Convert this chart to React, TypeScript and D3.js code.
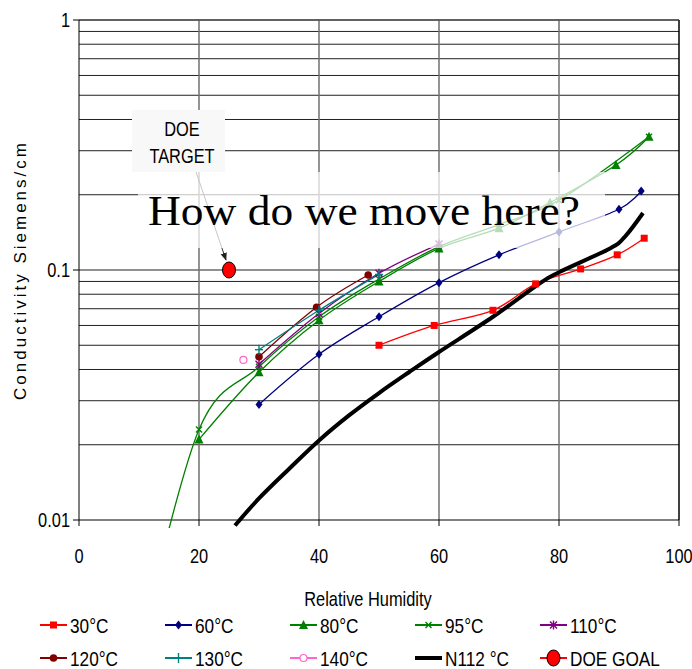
import React from "react";
import * as d3 from "d3";

type Pt = [number, number];

const xTicks = [0, 20, 40, 60, 80, 100];
const yTicks = [1, 0.1, 0.01];
const yTickLabels = ["1", "0.1", "0.01"];

const s30: Pt[] = [[50, 0.05], [59.2, 0.06], [69, 0.069], [76.1, 0.088], [83.6, 0.101], [89.7, 0.115], [94.2, 0.134]];
const s60: Pt[] = [[30, 0.029], [40, 0.046], [50, 0.065], [60, 0.089], [70, 0.115], [80, 0.142], [90, 0.175], [93.7, 0.207]];
const s80: Pt[] = [[20, 0.021], [30, 0.039], [40, 0.063], [50, 0.09], [60, 0.122], [70, 0.147], [78.5, 0.186], [89.5, 0.263], [95, 0.341]];
const s95: Pt[] = [[10, 0.003], [20, 0.023], [30, 0.041], [40, 0.065], [50, 0.092], [60, 0.124], [70, 0.152], [80, 0.19], [95, 0.341]];
const s110: Pt[] = [[30, 0.042], [40, 0.067], [50, 0.097], [60, 0.127]];
const s120: Pt[] = [[30, 0.045], [39.6, 0.071], [48.2, 0.0955]];
const s130: Pt[] = [[30, 0.048], [40, 0.069], [50, 0.096]];
const s140: Pt[] = [[27.4, 0.0437]];
const sN112: Pt[] = [[26, 0.0095], [30, 0.0122], [35, 0.016], [40, 0.0208], [45, 0.0262], [50, 0.0322], [55, 0.039], [60, 0.047], [69, 0.065], [76.8, 0.0885], [80, 0.098], [88.5, 0.122], [91, 0.136], [94, 0.169]];
const doeGoal: Pt[] = [[25, 0.1]];

const seriesNames = ["30°C", "60°C", "80°C", "95°C", "110°C", "120°C", "130°C", "140°C", "N112 °C", "DOE GOAL"];

type Series = { name: string; data: Pt[]; color: string; marker: string; width: number };
const series: Series[] = [
  { name: seriesNames[0], data: s30, color: "#ff0000", marker: "square", width: 1.3 },
  { name: seriesNames[1], data: s60, color: "#000080", marker: "diamond", width: 1.3 },
  { name: seriesNames[2], data: s80, color: "#008000", marker: "triangle", width: 1.3 },
  { name: seriesNames[3], data: s95, color: "#008000", marker: "x", width: 1.3 },
  { name: seriesNames[4], data: s110, color: "#800080", marker: "star", width: 1.3 },
  { name: seriesNames[5], data: s120, color: "#800000", marker: "circle", width: 1.3 },
  { name: seriesNames[6], data: s130, color: "#008080", marker: "plus", width: 1.3 },
  { name: seriesNames[7], data: s140, color: "#ff66cc", marker: "ocircle", width: 1.3 },
  { name: seriesNames[8], data: sN112, color: "#000000", marker: "none", width: 4 },
];

const W = 692, H = 669;
const L = 79, R = 679, T = 20, B = 520;

const x = d3.scaleLinear().domain([0, 100]).range([L, R]);
const y = d3.scaleLog().domain([0.01, 1]).range([B, T]);

const minorY: number[] = [];
[0.01, 0.1].forEach((d) => { for (let k = 2; k <= 10; k++) minorY.push(d * k); });

const line = d3.line<Pt>().x((d) => x(d[0])).y((d) => y(d[1])).curve(d3.curveCardinal.tension(0));

function Marker({ type, cx, cy, color }: { type: string; cx: number; cy: number; color: string }) {
  switch (type) {
    case "square":
      return <rect x={cx - 3.5} y={cy - 3.5} width={7} height={7} fill={color} />;
    case "diamond":
      return <polygon points={`${cx},${cy - 4.5} ${cx + 3.5},${cy} ${cx},${cy + 4.5} ${cx - 3.5},${cy}`} fill={color} />;
    case "triangle":
      return <polygon points={`${cx},${cy - 5} ${cx + 4.5},${cy + 4} ${cx - 4.5},${cy + 4}`} fill={color} />;
    case "x":
      return <g stroke={color} strokeWidth={1.4}><line x1={cx - 3} y1={cy - 3} x2={cx + 3} y2={cy + 3} /><line x1={cx - 3} y1={cy + 3} x2={cx + 3} y2={cy - 3} /></g>;
    case "star":
      return <g stroke={color} strokeWidth={1.4}><line x1={cx - 3.5} y1={cy - 3.5} x2={cx + 3.5} y2={cy + 3.5} /><line x1={cx - 3.5} y1={cy + 3.5} x2={cx + 3.5} y2={cy - 3.5} /><line x1={cx} y1={cy - 4.5} x2={cx} y2={cy + 4.5} /></g>;
    case "circle":
      return <circle cx={cx} cy={cy} r={3.8} fill={color} />;
    case "plus":
      return <g stroke={color} strokeWidth={1.4}><line x1={cx - 4} y1={cy} x2={cx + 4} y2={cy} /><line x1={cx} y1={cy - 5} x2={cx} y2={cy + 5} /></g>;
    case "ocircle":
      return <circle cx={cx} cy={cy} r={3.5} fill="white" stroke={color} strokeWidth={1.2} />;
    case "goal":
      return <ellipse cx={cx} cy={cy} rx={6.5} ry={8} fill="#ff0000" stroke="#000" strokeWidth={1} />;
    default:
      return null;
  }
}

function NText({ x: tx, y: ty, anchor = "start", size = 20, children, sx = 0.82 }: any) {
  return (
    <text transform={`translate(${tx},${ty}) scale(${sx},1)`} textAnchor={anchor} fontSize={size}
      fontFamily="'Liberation Sans', Arial, sans-serif" fill="#000">{children}</text>
  );
}

const legendItems = [
  ...series.map((s) => ({ name: s.name, color: s.color, marker: s.marker, width: s.width === 4 ? 4 : 2 })),
  { name: seriesNames[9], color: "#ff0000", marker: "goal", width: 2 },
];

export default function App() {
  return (
    <svg width={W} height={H} style={{ position: "absolute", left: 0, top: 0, background: "#fff" }}>
      <defs>
        <clipPath id="plotclip"><rect x={L} y={T} width={R - L} height={528 - T} /></clipPath>
        <marker id="arrow" viewBox="0 0 10 10" refX={9} refY={5} markerWidth={8} markerHeight={8} orient="auto">
          <path d="M0,1 L10,5 L0,9 Z" fill="#222" />
        </marker>
      </defs>
      <rect x={0} y={0} width={W} height={H} fill="#fff" />
      {minorY.map((v, i) => (
        <line key={"h" + i} x1={L} x2={R} y1={y(v)} y2={y(v)} stroke="#222" strokeWidth={1} />
      ))}
      {xTicks.filter((t) => t > 0 && t < 100).map((t) => (
        <line key={"v" + t} x1={x(t)} x2={x(t)} y1={T} y2={B} stroke="#707070" strokeWidth={1.5} />
      ))}
      <line x1={R} x2={R} y1={T} y2={B} stroke="#000" strokeWidth={1.5} />
      <line x1={L} x2={R} y1={T} y2={T} stroke="#333" strokeWidth={1} />
      <line x1={L} x2={L} y1={T} y2={B} stroke="#000" strokeWidth={1} />
      <line x1={L} x2={R} y1={B} y2={B} stroke="#000" strokeWidth={1.2} />
      {yTicks.map((t) => (
        <line key={"yt" + t} x1={L - 6} x2={L} y1={y(t)} y2={y(t)} stroke="#000" />
      ))}
      {xTicks.map((t) => (
        <line key={"xt" + t} x1={x(t)} x2={x(t)} y1={B} y2={B + 6} stroke="#000" />
      ))}
      <g clipPath="url(#plotclip)">
        {series.map((s) => (
          s.data.length > 1 ? <path key={s.name} d={line(s.data) || ""} fill="none" stroke={s.color} strokeWidth={s.width} strokeLinejoin="round" /> : null
        ))}
        {series.map((s) => s.data.map((d, i) => (
          <Marker key={s.name + i} type={s.marker} cx={x(d[0])} cy={y(d[1])} color={s.color} />
        )))}
      </g>
      <line x1={193} y1={163} x2={226} y2={260} stroke="#333" strokeWidth={1} markerEnd="url(#arrow)" />
      <rect x={138} y={172} width={467} height={76} fill="#fff" opacity={0.72} />
      <text x={148} y={225} fontSize={43} fontFamily="'Liberation Serif', 'Times New Roman', serif" textLength={432} lengthAdjust="spacingAndGlyphs" fill="#000">How do we move here?</text>
      {doeGoal.map((d, i) => (
        <Marker key={"goal" + i} type="goal" cx={x(d[0])} cy={y(d[1])} color="#ff0000" />
      ))}
      <rect x={132} y={110} width={93} height={62} fill="#f8f8f8" />
      <NText x={182} y={136} anchor="middle" size={20}>DOE</NText>
      <NText x={182} y={163} anchor="middle" size={20}>TARGET</NText>
      {xTicks.map((t) => (
        <NText key={"xl" + t} x={x(t)} y={563} anchor="middle" size={20}>{t}</NText>
      ))}
      {yTicks.map((t, i) => (
        <NText key={"yl" + t} x={L - 9} y={y(t) + 7} anchor="end" size={20}>{yTickLabels[i]}</NText>
      ))}
      <NText x={368} y={606} anchor="middle" size={20}>Relative Humidity</NText>
      <text transform={`translate(26,${(T + B) / 2}) rotate(-90)`} textAnchor="middle" fontSize={17}
        fontFamily="'Liberation Sans', Arial, sans-serif" letterSpacing={3}>Conductivity Siemens/cm</text>
      {legendItems.map((it, i) => {
        const col = i % 5, row = Math.floor(i / 5);
        const lx = 40 + col * 125, ly = 625 + row * 33;
        return (
          <g key={"lg" + i}>
            <line x1={lx} x2={lx + 27} y1={ly} y2={ly} stroke={it.color} strokeWidth={it.width} />
            <Marker type={it.marker} cx={lx + 13.5} cy={ly} color={it.color} />
            <NText x={lx + 30} y={ly + 8} size={21}>{it.name}</NText>
          </g>
        );
      })}
    </svg>
  );
}
